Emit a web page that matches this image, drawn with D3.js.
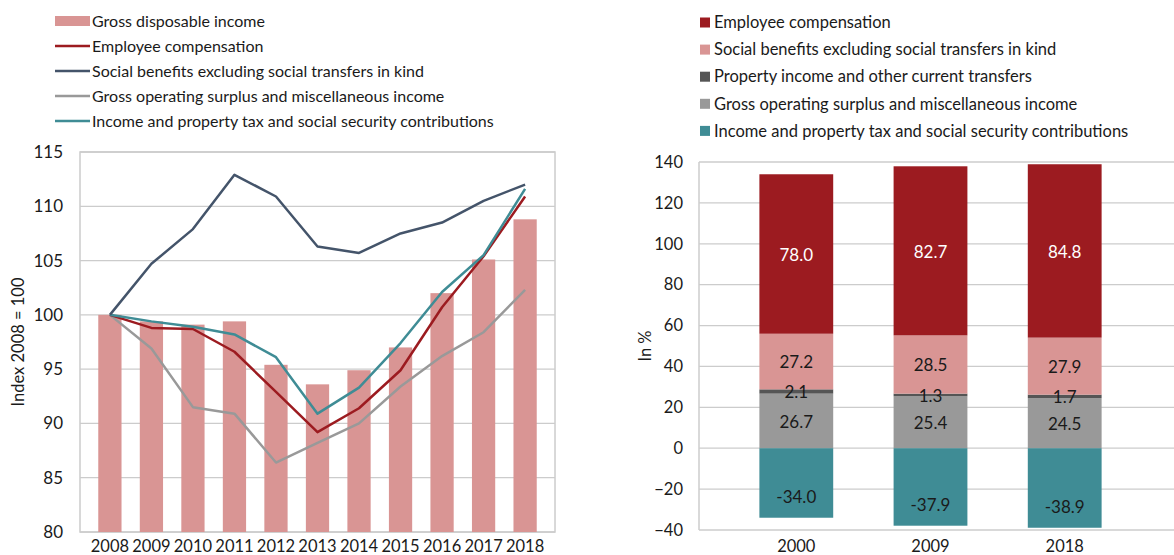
<!DOCTYPE html>
<html lang="en">
<head>
  <meta charset="UTF-8">
  <title>Household income</title>
  <script src="https://d3js.org/d3.v7.min.js"></script>
  <style>
    * { margin: 0; padding: 0; box-sizing: border-box; }
    body { font-family: Lato, "Open Sans", sans-serif; background: #fff; }
    text { fill: #1a1a1a; }
  </style>
</head>
<body>
  <div id="chart"></div>

  <script>
    // left chart: index 2008 = 100
    const years = ["2008", "2009", "2010", "2011", "2012", "2013", "2014", "2015", "2016", "2017", "2018"];
    const grossDisposable = [100, 99.4, 99.1, 99.4, 95.4, 93.6, 94.9, 97.0, 102.0, 105.1, 108.8];
    const employeeComp = [100, 98.8, 98.7, 96.6, 92.9, 89.2, 91.4, 94.9, 100.7, 105.4, 110.9];
    const socialBenefits = [100, 104.7, 107.9, 112.9, 110.9, 106.3, 105.7, 107.5, 108.5, 110.5, 112.0];
    const grossOperating = [100, 96.9, 91.5, 90.9, 86.4, 88.2, 90.0, 93.4, 96.2, 98.4, 102.3];
    const incomeTax = [100, 99.4, 98.9, 98.2, 96.1, 90.9, 93.3, 97.4, 102.1, 105.5, 111.6];
    const leftTicks = [80, 85, 90, 95, 100, 105, 110, 115];

    // right chart: contributions in %
    const periods = ["2000", "2009", "2018"];
    const stackEmployee = [78.0, 82.7, 84.8];
    const stackSocial = [27.2, 28.5, 27.9];
    const stackProperty = [2.1, 1.3, 1.7];
    const stackOperating = [26.7, 25.4, 24.5];
    const stackTax = [-34.0, -37.9, -38.9];
    const rightTicks = [-40, -20, 0, 20, 40, 60, 80, 100, 120, 140];

    const cRed = "#9c1b20", cPink = "#d99594", cNavy = "#44546a",
          cGrey = "#999999", cTeal = "#3f8c95", cDark = "#555555", cGrid = "#cccccc";

    const svg = d3.select("#chart").append("svg")
                  .attr("width", 1174).attr("height", 555);

    // ---------- left chart ----------
    const L = {left: 80, right: 555, top: 152, bottom: 532};

    const x1 = d3.scaleBand().domain(years).range([L.left, L.right]).padding(0.44);
    const y1 = d3.scaleLinear().domain([80, 115]).range([L.bottom, L.top]);

    const left = svg.append("g");

    left.append("g").selectAll("line")
        .data(leftTicks).enter().append("line")
        .attr("x1", L.left).attr("x2", L.right)
        .attr("y1", d => y1(d)).attr("y2", d => y1(d))
        .attr("stroke", cGrid).attr("stroke-width", 1.3);

    left.append("rect")
        .attr("x", L.left).attr("y", L.top)
        .attr("width", L.right - L.left).attr("height", L.bottom - L.top)
        .attr("fill", "none").attr("stroke", cGrid).attr("stroke-width", 1.5);

    left.selectAll(".gdi")
        .data(years).enter().append("rect")
        .attr("class", "gdi")
        .attr("x", d => x1(d))
        .attr("y", (d, i) => y1(grossDisposable[i]))
        .attr("width", x1.bandwidth())
        .attr("height", (d, i) => y1(80) - y1(grossDisposable[i]))
        .attr("fill", cPink);

    const lineSeries = [
      {vals: grossOperating, color: cGrey},
      {vals: employeeComp, color: cRed},
      {vals: incomeTax, color: cTeal},
      {vals: socialBenefits, color: cNavy}
    ];
    const line1 = d3.line()
                    .x((d, i) => x1(years[i]) + x1.bandwidth() / 2)
                    .y(d => y1(d));
    lineSeries.forEach(s => {
      left.append("path")
          .datum(s.vals)
          .attr("d", line1)
          .attr("fill", "none")
          .attr("stroke", s.color)
          .attr("stroke-width", 2.5)
          .attr("stroke-linejoin", "round");
    });

    const yAxisL = left.append("g")
        .attr("transform", `translate(${L.left},0)`)
        .call(d3.axisLeft(y1).tickValues(leftTicks).tickSize(0).tickPadding(17));
    yAxisL.select(".domain").remove();
    yAxisL.selectAll("text").style("font-size", "17px").style("font-family", "Lato").attr("fill", "#1a1a1a");

    const xAxisL = left.append("g")
        .attr("transform", `translate(0,${L.bottom})`)
        .call(d3.axisBottom(x1).tickSize(0).tickPadding(8));
    xAxisL.select(".domain").remove();
    xAxisL.selectAll("text").style("font-size", "16.5px").style("font-family", "Lato").attr("fill", "#1a1a1a");

    left.append("text")
        .attr("transform", `translate(24,${(L.top + L.bottom) / 2}) rotate(-90)`)
        .attr("text-anchor", "middle")
        .style("font-size", "16.5px")
        .text("Index 2008 = 100");

    const legendL = [
      {name: "Gross disposable income", color: cPink, type: "bar"},
      {name: "Employee compensation", color: cRed, type: "line"},
      {name: "Social benefits excluding social transfers in kind", color: cNavy, type: "line"},
      {name: "Gross operating surplus and miscellaneous income", color: cGrey, type: "line"},
      {name: "Income and property tax and social security contributions", color: cTeal, type: "line"}
    ];
    const legL = left.selectAll(".legL")
        .data(legendL).enter().append("g")
        .attr("transform", (d, i) => `translate(55,${21 + i * 25})`);
    legL.filter(d => d.type === "bar").append("rect")
        .attr("x", 0).attr("y", -5).attr("width", 35).attr("height", 10)
        .attr("fill", d => d.color);
    legL.filter(d => d.type === "line").append("line")
        .attr("x1", 0).attr("x2", 35).attr("y1", 0).attr("y2", 0)
        .attr("stroke", d => d.color).attr("stroke-width", 2.5);
    legL.append("text")
        .attr("x", 37).attr("dy", "0.35em")
        .style("font-size", "16px")
        .text(d => d.name);

    // ---------- right chart ----------
    const R = {left: 699, right: 1162, top: 162, bottom: 530};

    const x2 = d3.scaleBand().domain(periods).range([R.left, R.right]).padding(0.45);
    const y2 = d3.scaleLinear().domain([-40, 140]).range([R.bottom, R.top]);

    const right = svg.append("g");

    right.append("g").selectAll("line")
        .data(rightTicks).enter().append("line")
        .attr("x1", R.left).attr("x2", 1174)
        .attr("y1", d => y2(d)).attr("y2", d => y2(d))
        .attr("stroke", cGrid).attr("stroke-width", 1.3);
    right.append("line")
        .attr("x1", R.left).attr("x2", R.left)
        .attr("y1", R.top).attr("y2", R.bottom)
        .attr("stroke", cGrid).attr("stroke-width", 1.5);

    const layers = [
      {name: "Gross operating surplus and miscellaneous income", vals: stackOperating, color: cGrey, label: "#1a1a1a"},
      {name: "Property income and other current transfers", vals: stackProperty, color: cDark, label: "#1a1a1a"},
      {name: "Social benefits excluding social transfers in kind", vals: stackSocial, color: cPink, label: "#1a1a1a"},
      {name: "Employee compensation", vals: stackEmployee, color: cRed, label: "#ffffff"}
    ];

    // build segments first, then draw rects, then labels on top
    const segs = [];
    periods.forEach((p, i) => {
      let base = 0;
      layers.forEach(layer => {
        const v = layer.vals[i];
        segs.push({p, y0: base, y1: base + v, v, color: layer.color, label: layer.label, ly: base + v / 2});
        base += v;
      });
      segs.push({p, y0: stackTax[i], y1: 0, v: stackTax[i], color: cTeal, label: "#1a1a1a", neg: true});
    });

    right.selectAll(".seg")
         .data(segs).enter().append("rect")
         .attr("class", "seg")
         .attr("x", d => x2(d.p)).attr("width", x2.bandwidth())
         .attr("y", d => y2(d.y1)).attr("height", d => y2(d.y0) - y2(d.y1))
         .attr("fill", d => d.color);

    right.selectAll(".segLabel")
         .data(segs).enter().append("text")
         .attr("class", "segLabel")
         .attr("x", d => x2(d.p) + x2.bandwidth() / 2)
         .attr("y", d => d.neg ? y2(d.v) - 21 : y2(d.ly) + 1)
         .attr("dy", "0.35em")
         .attr("text-anchor", "middle")
         .style("font-size", "17px")
         .style("fill", d => d.label)
         .text(d => d.v.toFixed(1));

    const yAxisR = right.append("g")
        .attr("transform", `translate(${R.left},0)`)
        .call(d3.axisLeft(y2).tickValues(rightTicks).tickSize(0).tickPadding(16));
    yAxisR.select(".domain").remove();
    yAxisR.selectAll("text").style("font-size", "16.5px").style("font-family", "Lato").attr("fill", "#1a1a1a");

    const xAxisR = right.append("g")
        .attr("transform", `translate(0,${R.bottom})`)
        .call(d3.axisBottom(x2).tickSize(0).tickPadding(10));
    xAxisR.select(".domain").remove();
    xAxisR.selectAll("text").style("font-size", "16.5px").style("font-family", "Lato").attr("fill", "#1a1a1a");

    right.append("text")
        .attr("transform", `translate(651,${(R.top + R.bottom) / 2}) rotate(-90)`)
        .attr("text-anchor", "middle")
        .style("font-size", "16.5px")
        .text("In %");

    const legendR = [
      {name: "Employee compensation", color: cRed},
      {name: "Social benefits excluding social transfers in kind", color: cPink},
      {name: "Property income and other current transfers", color: cDark},
      {name: "Gross operating surplus and miscellaneous income", color: cGrey},
      {name: "Income and property tax and social security contributions", color: cTeal}
    ];
    const legR = right.selectAll(".legR")
        .data(legendR).enter().append("g")
        .attr("transform", (d, i) => `translate(700,${22.5 + i * 27.1})`);
    legR.append("rect")
        .attr("x", 0).attr("y", -5).attr("width", 10).attr("height", 10)
        .attr("fill", d => d.color);
    legR.append("text")
        .attr("x", 14).attr("dy", "0.35em")
        .style("font-size", "16.5px")
        .text(d => d.name);
  </script>
</body>
</html>
